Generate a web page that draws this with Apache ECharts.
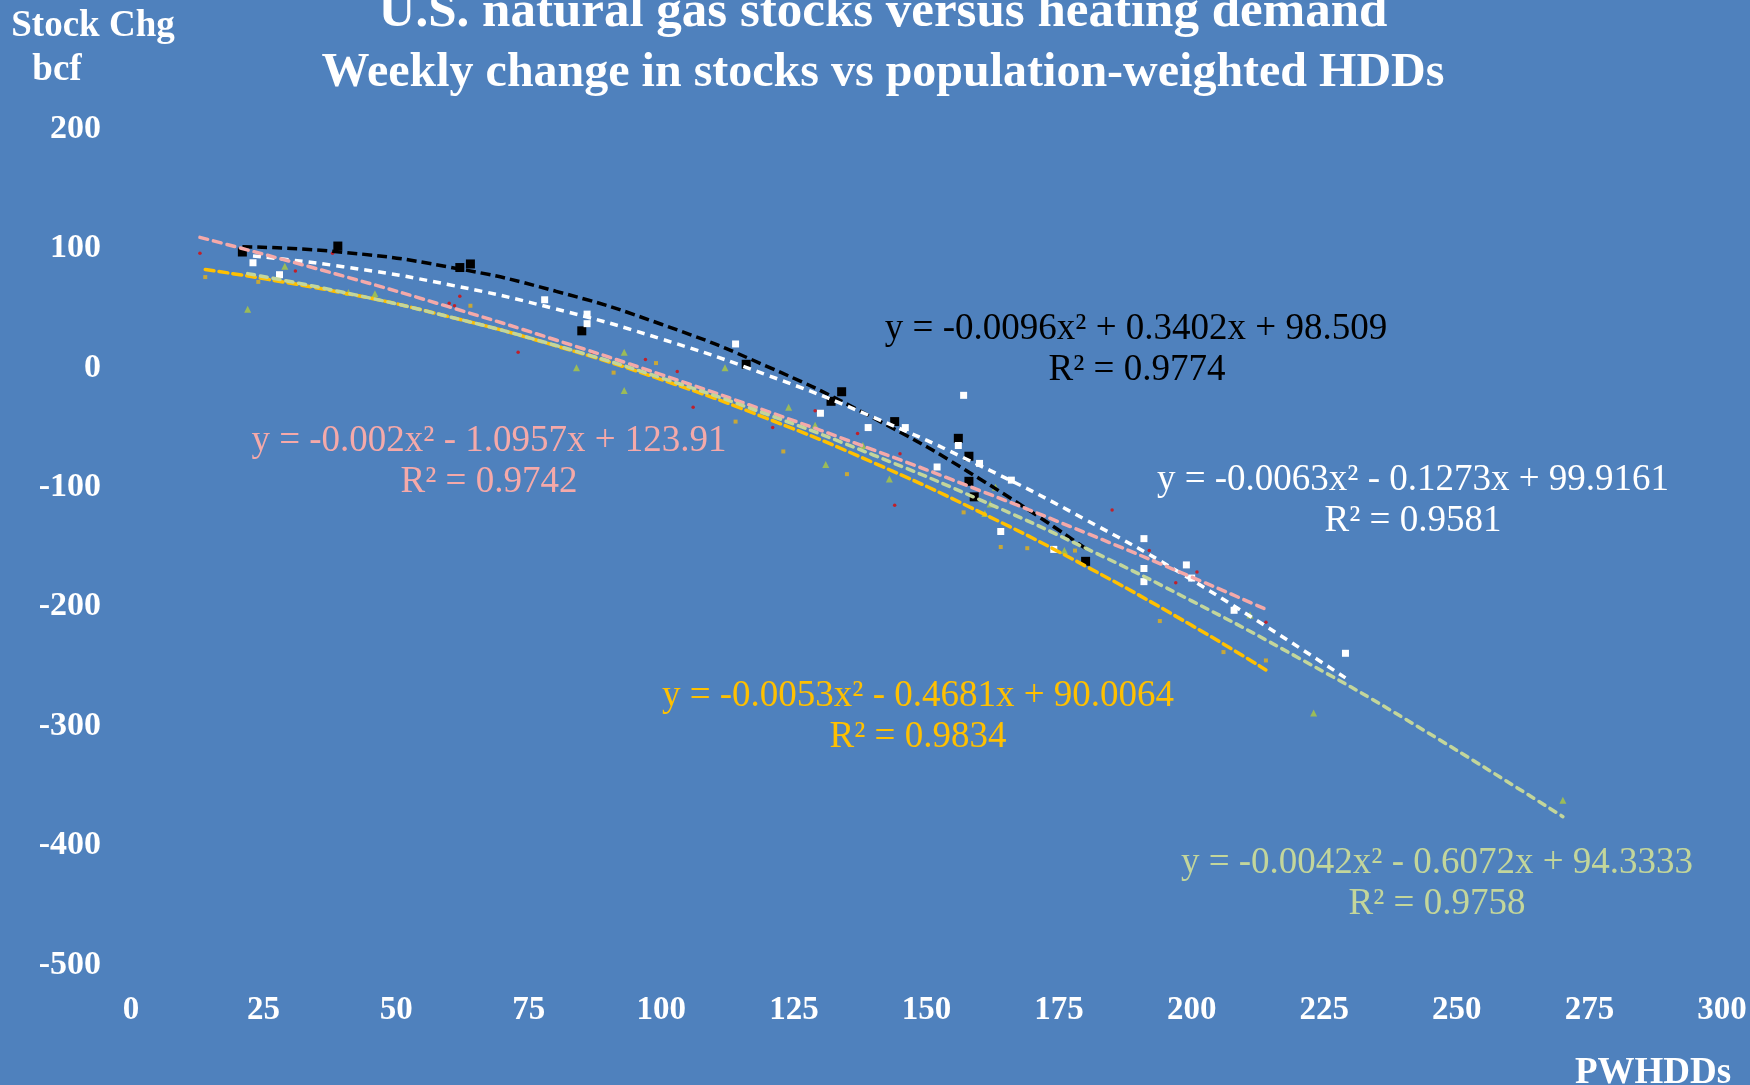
<!DOCTYPE html>
<html>
<head>
<meta charset="utf-8">
<script src="https://cdn.jsdelivr.net/npm/echarts@6/dist/echarts.min.js"></script>
<style>
html,body{margin:0;padding:0;background:#4F81BD;}
#chart{width:1750px;height:1085px;}
</style>
</head>
<body>
<div id="chart"></div>
<script>
// ---- data ----
var xTicks = [0, 25, 50, 75, 100, 125, 150, 175, 200, 225, 250, 275, 300];
var yTicks = [-500, -400, -300, -200, -100, 0, 100, 200];

var blackPts = [[21,97],[39,102],[62,84],[64,87],[85,31],[116,3],[132,-28],[134,-20],[144,-45],[156,-59],[158,-74],[158,-95],[159,-108],[180,-162]];
var whitePts = [[23,88],[28,78],[78,57],[86,45],[86,37],[114,20],[130,-38],[139,-50],[146,-50],[157,-23],[156,-65],[152,-83],[160,-80],[166,-94],[164,-137],[174,-152],[191,-143],[191,-168],[191,-179],[199,-165],[200,-176],[208,-203],[229,-239]];
var redPts = [[13,96],[31,81],[38,96],[60,54],[61,52],[62,60],[73,13],[87,13],[97,7],[103,-3],[106,-33],[121,-50],[129,-36],[137,-55],[145,-72],[144,-115],[185,-119],[192,-153],[197,-180],[201,-171],[214,-213]];
var goldPts = [[14,76],[24,72],[64,52],[91,-4],[99,4],[114,-45],[123,-70],[135,-89],[157,-121],[164,-150],[169,-151],[178,-153],[194,-212],[206,-238],[214,-245]];
var greenPts = [[22,49],[29,85],[41,63],[46,62],[84,0],[93,13],[93,-19],[112,0],[124,-33],[129,-48],[131,-81],[138,-65],[143,-93],[161,-122],[162,-114],[163,-100],[176,-153],[211,-207],[223,-289],[270,-362]];

// trendline points
var blackTrend = [[21,101.4],[40,96.8],[60,84.4],[80,64.3],[100,36.5],[120,1.1],[140,-42.0],[160,-92.8],[180,-151.3]];
var whiteTrend = [[23,93.7],[40,84.7],[60,69.6],[80,49.4],[100,24.2],[120,-6.1],[140,-41.4],[160,-81.7],[180,-127.1],[200,-177.5],[229,-259.6]];
var pinkTrend = [[13,109.3],[40,76.9],[60,51.0],[80,23.5],[100,-5.7],[120,-36.4],[140,-68.7],[160,-102.6],[180,-138.1],[200,-175.2],[214,-202.2]];
var goldTrend = [[14,82.4],[40,62.8],[60,42.8],[80,18.6],[100,-9.8],[120,-42.5],[140,-79.4],[160,-120.6],[180,-166.0],[200,-215.6],[214,-252.9]];
var greenTrend = [[22,78.9],[40,63.3],[60,42.8],[80,18.9],[100,-8.4],[120,-39.0],[140,-73.0],[160,-110.3],[180,-151.0],[200,-195.1],[220,-242.5],[240,-293.3],[270,-375.8]];

var eqBlack = ['y = -0.0096x² + 0.3402x + 98.509', 'R² = 0.9774'];
var eqWhite = ['y = -0.0063x² - 0.1273x + 99.9161', 'R² = 0.9581'];
var eqPink = ['y = -0.002x² - 1.0957x + 123.91', 'R² = 0.9742'];
var eqGold = ['y = -0.0053x² - 0.4681x + 90.0064', 'R² = 0.9834'];
var eqGreen = ['y = -0.0042x² - 0.6072x + 94.3333', 'R² = 0.9758'];

var titleText = 'U.S. natural gas stocks versus heating demand';
var subtitleText = 'Weekly change in stocks vs population-weighted HDDs';
var yName = ['Stock Chg', 'bcf'];
var xName = 'PWHDDs';

// ---- chart ----
var SERIF = '"Liberation Serif", "DejaVu Serif", serif';
var chart = echarts.init(document.getElementById('chart'));

function txt(t, x, y, size, color, weight) {
  return {
    type: 'text', x: x, y: y, z: 100,
    style: {
      text: t, fill: color, textAlign: 'center', textVerticalAlign: 'middle',
      font: (weight || 'normal') + ' ' + size + 'px ' + SERIF
    }
  };
}

function trend(data, color, dash, width, cap) {
  return {
    type: 'line', data: data, smooth: true, showSymbol: false, symbol: 'none', z: 5,
    lineStyle: { color: color, width: width, type: dash, cap: cap || 'butt' },
    silent: true
  };
}

function pts(data, symbol, size, color) {
  return {
    type: 'scatter', data: data, symbol: symbol, symbolSize: size, z: 3,
    itemStyle: { color: color, opacity: 1 }
  };
}

var EQ = 37;
var option = {
  backgroundColor: '#4F81BD',
  animation: false,
  grid: { left: 131, right: 28, top: 129, bottom: 120, containLabel: false },
  xAxis: {
    type: 'value', min: xTicks[0], max: xTicks[xTicks.length - 1], interval: 25,
    axisLine: { show: false }, axisTick: { show: false }, splitLine: { show: false },
    axisLabel: { color: '#FFFFFF', fontFamily: SERIF, fontWeight: 'bold', fontSize: 33, margin: 29 }
  },
  yAxis: {
    type: 'value', min: yTicks[0], max: yTicks[yTicks.length - 1], interval: 100,
    axisLine: { show: false }, axisTick: { show: false }, splitLine: { show: false },
    axisLabel: { color: '#FFFFFF', fontFamily: SERIF, fontWeight: 'bold', fontSize: 34, margin: 30 }
  },
  series: [
    pts(blackPts, 'rect', 9, '#000000'),
    pts(whitePts, 'rect', 7, '#FFFFFF'),
    pts(redPts, 'circle', 3.5, '#C0202A'),
    pts(goldPts, 'rect', 4, '#C8A838'),
    pts(greenPts, 'triangle', 7, '#9BBB59'),
    trend(blackTrend, '#000000', [10, 5], 3.5),
    trend(whiteTrend, '#FFFFFF', [8, 6], 3.5),
    trend(pinkTrend, '#F5A9A9', [8, 6], 3.5, 'round'),
    trend(goldTrend, '#FFC000', [9, 5], 3.5, 'round'),
    trend(greenTrend, '#C3D69B', [7, 6], 3.5, 'round')
  ],
  graphic: [
    txt(titleText, 883, 13, 51, '#FFFFFF', 'bold'),
    txt(subtitleText, 883, 74, 48, '#FFFFFF', 'bold'),
    txt(yName[0], 93, 26, 37, '#FFFFFF', 'bold'),
    txt(yName[1], 57, 70, 37, '#FFFFFF', 'bold'),
    txt(xName, 1653, 1073, 37, '#FFFFFF', 'bold'),
    txt(eqBlack[0], 1136, 329, EQ, '#000000'),
    txt(eqBlack[1], 1137, 370, EQ, '#000000'),
    txt(eqWhite[0], 1413, 480, EQ, '#FFFFFF'),
    txt(eqWhite[1], 1413, 521, EQ, '#FFFFFF'),
    txt(eqPink[0], 489, 441, EQ, '#F5A9A9'),
    txt(eqPink[1], 489, 482, EQ, '#F5A9A9'),
    txt(eqGold[0], 918, 696, EQ, '#FFC000'),
    txt(eqGold[1], 918, 737, EQ, '#FFC000'),
    txt(eqGreen[0], 1437, 863, EQ, '#C3D69B'),
    txt(eqGreen[1], 1437, 904, EQ, '#C3D69B')
  ]
};
chart.setOption(option);
</script>
</body>
</html>
